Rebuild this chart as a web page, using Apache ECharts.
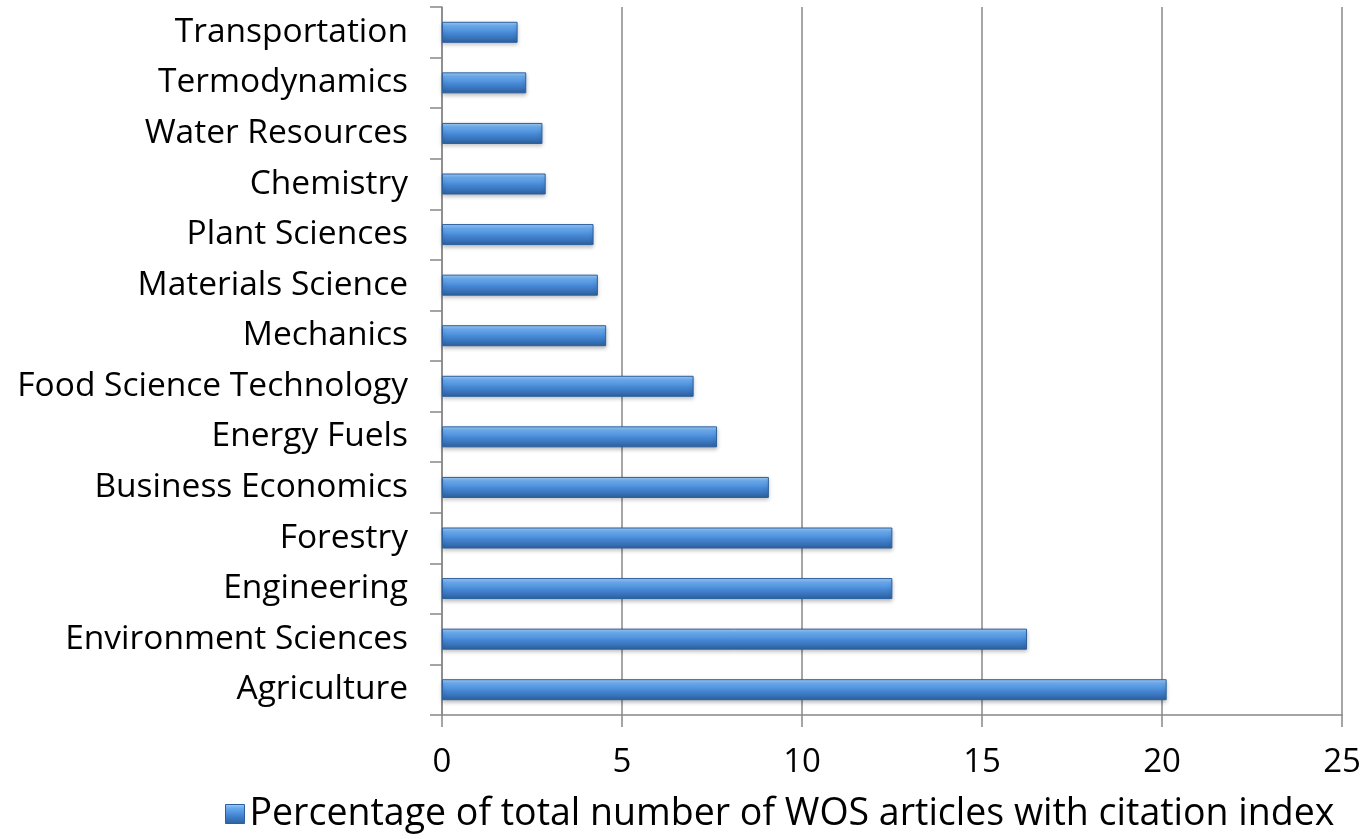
<!DOCTYPE html>
<html>
<head>
<meta charset="utf-8">
<script src="https://cdn.jsdelivr.net/npm/echarts@6/dist/echarts.min.js"></script>
<style>
  html, body { margin: 0; padding: 0; background: #fff; }
  #chart { width: 1366px; height: 839px; }
</style>
</head>
<body>
<div id="chart"></div>
<script>
// categories, top to bottom
const categories = [
  'Transportation', 'Termodynamics', 'Water Resources', 'Chemistry',
  'Plant Sciences', 'Materials Science', 'Mechanics', 'Food Science Technology',
  'Energy Fuels', 'Business Economics', 'Forestry', 'Engineering',
  'Environment Sciences', 'Agriculture'
];
const percentages = [
  2.1, 2.34, 2.79, 2.88, 4.21, 4.33, 4.56, 6.99,
  7.64, 9.08, 12.51, 12.51, 16.25, 20.13
];
const seriesName = 'Percentage of total number of WOS articles with citation index';
const xTicks = [0, 25, 5]; // min, max, interval

const myChart = echarts.init(document.getElementById('chart'));

// bar fill: light on top, dark at bottom (cylinder look)
const barColor = new echarts.graphic.LinearGradient(0, 0, 0, 1, [
  { offset: 0, color: '#a4d0fa' },
  { offset: 0.2, color: '#6aabee' },
  { offset: 0.55, color: '#4587d4' },
  { offset: 1, color: '#2c5f9e' }
]);

const font = '"Open Sans", sans-serif';

const option = {
  animation: false,
  grid: { left: 442, right: 24, top: 7, bottom: 124 },
  legend: {
    top: 790,
    left: 220,
    itemWidth: 19,
    itemHeight: 19,
    icon: 'rect',
    itemGap: 8,
    textStyle: { fontFamily: font, fontSize: 37.5, color: '#000' },
    data: [{ name: seriesName, itemStyle: { color: barColor, borderColor: '#2c5f9e', borderWidth: 1 } }]
  },
  xAxis: {
    type: 'value',
    min: xTicks[0],
    max: xTicks[1],
    interval: xTicks[2],
    axisLine: { show: true, lineStyle: { color: '#888', width: 1.5 } },
    axisTick: { show: true, length: 12, lineStyle: { color: '#888', width: 1.5 } },
    splitLine: { show: true, lineStyle: { color: '#888', width: 1.5 } },
    axisLabel: { fontFamily: font, fontSize: 33, color: '#000', margin: 31 }
  },
  yAxis: {
    type: 'category',
    inverse: true,
    data: categories,
    axisLine: { show: true, lineStyle: { color: '#888', width: 1.5 } },
    axisTick: { show: true, length: 12, lineStyle: { color: '#888', width: 1.5 } },
    axisLabel: { fontFamily: font, fontSize: 33.5, color: '#000', margin: 34 }
  },
  series: [
    {
      name: seriesName,
      type: 'bar',
      data: percentages,
      barWidth: 21,
      itemStyle: {
        color: barColor,
        borderColor: '#2c5f9e',
        borderWidth: 1,
        shadowColor: 'rgba(0,0,0,0.25)',
        shadowBlur: 4,
        shadowOffsetY: 2
      }
    }
  ]
};
option && myChart.setOption(option);
window.addEventListener('resize', myChart.resize);
</script>
</body>
</html>
